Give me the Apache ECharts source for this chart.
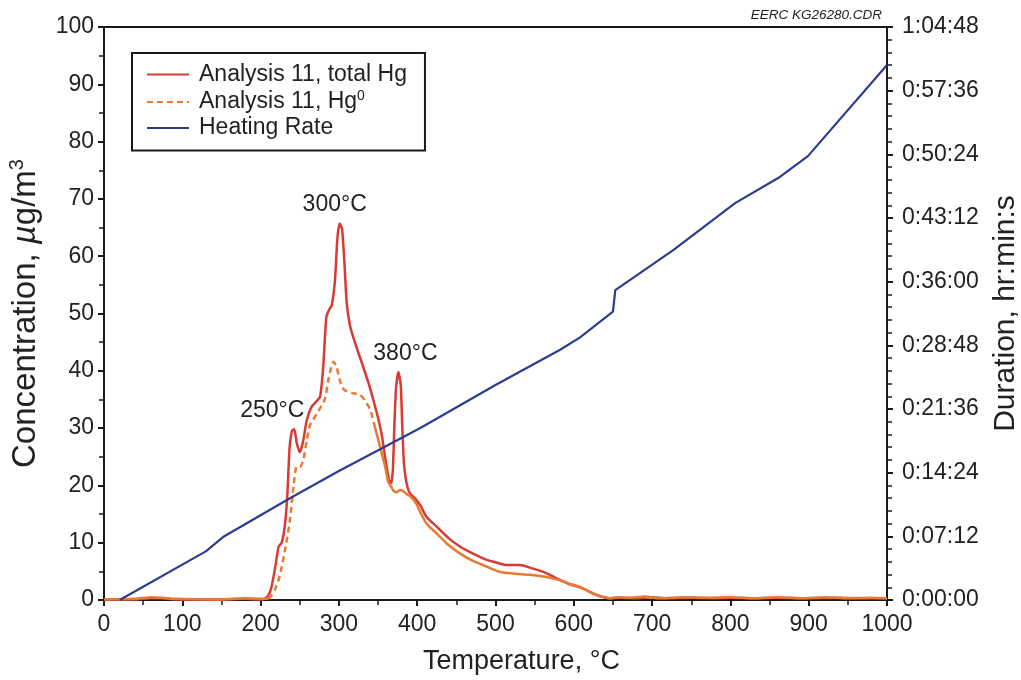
<!DOCTYPE html>
<html>
<head>
<meta charset="utf-8">
<script src="https://cdn.jsdelivr.net/npm/echarts@6/dist/echarts.min.js"></script>
<style>html,body{margin:0;padding:0;background:#fff}#c{width:1021px;height:680px}</style>
</head>
<body>
<div id="c"></div>
<script>
// ---- data ----
const totalTemp = [0,40,60,75,90,150,180,200,205,210,214,219,223,227,231,234,237,240,243,246,250,254,259,265,271,276,280,284,288,291,295,298,301,304,307,310,314,318,324,331,338,344,350,355,360,364,367,369,371,373,376,379,381,383,385,388,391,398,404,412,425,440,455,470,489,500,514,531,545,561,572,582,594,604,615,625,635,646,660,680,700,720,750,780,800,830,860,900,940,970,1000];
const totalConc = [0.1,0.1,0.3,0.3,0.1,0.1,0.2,0.1,0.2,0.8,2.3,6,9.3,10,13,18,26.5,29.5,29.8,27.5,25.8,27.5,31.4,33.7,34.6,35.5,40.7,49.4,50.8,51.5,55.8,63,65.7,64.8,59,51.8,48,46,43.5,40.7,37.8,34.9,31.8,28.6,24,21,20.4,23,31,37,39.8,37.5,30,24,21.5,19.5,18.6,17.6,16.5,14.5,12.8,10.8,9.3,8.2,7,6.6,6.1,6.1,5.6,4.9,4.2,3.5,2.8,2.4,1.8,1.1,0.6,0.3,0.4,0.3,0.5,0.3,0.4,0.3,0.4,0.3,0.4,0.3,0.4,0.3,0.3];

const hg0Temp = [0,40,60,75,90,150,180,200,210,214,218,223,227,232,237.5,242,246,250,254.6,259,263,269.5,276,282,286.5,290,293,297,301,305,310,318,327,333,340,346,352.5,359,363,367,370,374,378,382,386.5,392,399,404,412,425,440,455,470,489,506,525,544,565,578,587,598,608,618,629,638,646,655,670,690,710,740,770,800,830,860,890,920,950,980,1000];
const hg0Conc = [0.1,0.2,0.5,0.4,0.2,0.1,0.3,0.2,0.2,0.8,1.7,3.5,5.8,9.3,14,19.8,23.3,23.2,24.4,27.9,30.5,32,33.5,35,38.4,40.5,41.6,40.7,38.4,37,36.4,36.1,35.8,34.9,33.2,30.2,26.8,23.3,20.6,19.7,19,18.8,19.2,19,18.5,18,16.8,15.3,13.3,11.6,9.6,8.1,6.9,5.8,4.9,4.6,4.4,4.0,3.6,3.2,2.7,2.3,1.6,0.9,0.5,0.3,0.5,0.4,0.6,0.3,0.5,0.4,0.5,0.3,0.5,0.3,0.5,0.3,0.4,0.3];
const hg0DashFrom = 210, hg0DashTo = 346;

const heatTemp = [20,130,152,238,300,404,500,582,608,650,653,727,806,861,899,1000];
const heatSec  = [0,330,427,692,875,1167,1459,1696,1782,1956,2103,2374,2693,2863,3012,3630];

const peakTemp = [243,301,376];
const peakConc = [29.8,65.7,39.8];
const peakText = ['250°C','300°C','380°C'];

const xTicks = {min:0, max:1000, step:100};
const yTicks = {min:0, max:100, step:10};
const durTicks = {min:0, max:3888, step:432};

const NAME_TOTAL = 'Analysis 11, total Hg';
const NAME_HG0 = 'Analysis 11, Hg0';
const NAME_HEAT = 'Heating Rate';

// ---- build ----
const zip = (a, b) => a.map((v, i) => [v, b[i]]);
const totalData = zip(totalTemp, totalConc);
const hg0All = zip(hg0Temp, hg0Conc);
const hg0Dash = hg0All.filter(p => p[0] >= hg0DashFrom && p[0] <= hg0DashTo);
const hg0Solid = hg0All.map(p => (p[0] > hg0DashFrom && p[0] < hg0DashTo) ? [p[0], '-'] : p);
const heatData = zip(heatTemp, heatSec);

function hms(s) {
  s = Math.round(s);
  const h = Math.floor(s / 3600), m = Math.floor((s % 3600) / 60), ss = s % 60;
  return h + ':' + String(m).padStart(2, '0') + ':' + String(ss).padStart(2, '0');
}

const FONT = 'Liberation Sans, Arial, Helvetica, sans-serif';
const RED = '#d93a34', ORANGE = '#ea7a30', BLUE = '#2c3d8f', INK = '#1a1a1a', TXT = '#222';
const labelOffsets = [[-22,-19],[-5,-19],[7,-18]];

const chart = echarts.init(document.getElementById('c'), null, {renderer: 'canvas'});
chart.setOption({
  animation: false,
  textStyle: {fontFamily: FONT},
  grid: {left: 104, right: 134, top: 27, bottom: 80, show: true, borderColor: INK, borderWidth: 2,
         backgroundColor: 'transparent', containLabel: false, outerBoundsMode: 'none'},
  legend: {
    data: [NAME_TOTAL, NAME_HG0, NAME_HEAT],
    orient: 'vertical', left: 132, top: 53,
    padding: [10, 18, 11, 14],
    borderColor: INK, borderWidth: 2,
    itemWidth: 42, itemHeight: 14, itemGap: 3,
    selectedMode: false,
    itemStyle: {opacity: 0},
    formatter: n => n === NAME_HG0 ? 'Analysis 11, Hg{sup|0}' : n,
    textStyle: {fontSize: 23, color: TXT, fontFamily: FONT, padding: [0, 0, 0, 5],
      rich: {sup: {fontSize: 14, verticalAlign: 'top', padding: [0, 0, 12, 0], color: TXT, fontFamily: FONT}}}
  },
  xAxis: {
    type: 'value', min: xTicks.min, max: xTicks.max, interval: xTicks.step,
    name: 'Temperature, °C', nameLocation: 'middle', nameGap: 48,
    nameTextStyle: {fontSize: 27, color: TXT, padding: [0, 0, 0, 52]},
    axisLine: {lineStyle: {color: INK, width: 2}},
    axisTick: {length: 6, lineStyle: {color: INK, width: 2}},
    minorTick: {show: true, splitNumber: 2, length: 5, lineStyle: {color: INK, width: 1.5}},
    axisLabel: {fontSize: 23, color: TXT, margin: 13, formatter: v => String(v)},
    splitLine: {show: false}
  },
  yAxis: [{
    type: 'value', min: yTicks.min, max: yTicks.max, interval: yTicks.step,
    name: 'Concentration, {it|µ}g/m{sup|3}', nameLocation: 'middle', nameGap: 60, nameRotate: 90,
    nameTextStyle: {fontSize: 33, color: TXT,
      rich: {it: {fontSize: 33, fontStyle: 'italic', color: TXT, fontFamily: FONT},
             sup: {fontSize: 20, verticalAlign: 'top', padding: [0, 0, 17, 0], color: TXT, fontFamily: FONT}}},
    axisLine: {show: true, lineStyle: {color: INK, width: 2}},
    axisTick: {length: 6, lineStyle: {color: INK, width: 2}},
    minorTick: {show: true, splitNumber: 2, length: 5, lineStyle: {color: INK, width: 1.5}},
    axisLabel: {fontSize: 23, color: TXT, margin: 10},
    splitLine: {show: false}
  }, {
    type: 'value', position: 'right', min: durTicks.min, max: durTicks.max, interval: durTicks.step,
    name: 'Duration, hr:min:s', nameLocation: 'middle', nameGap: 104, nameRotate: 90,
    nameTextStyle: {fontSize: 30, color: TXT},
    axisLine: {show: true, lineStyle: {color: INK, width: 2}},
    axisTick: {length: 6, lineStyle: {color: INK, width: 2}},
    minorTick: {show: true, splitNumber: 5, length: 5, lineStyle: {color: INK, width: 1.5}},
    axisLabel: {fontSize: 23, color: TXT, margin: 15, formatter: v => hms(v)},
    splitLine: {show: false}
  }],
  graphic: [{
    type: 'text', right: 139, top: 8,
    style: {text: 'EERC KG26280.CDR', font: 'italic 13.5px ' + FONT, fill: TXT}
  }],
  series: [{
    name: NAME_TOTAL, type: 'line', data: totalData, symbol: 'none', smooth: 0.2,
    lineStyle: {color: RED, width: 2.5}, itemStyle: {color: RED}, z: 3,
    markPoint: {
      symbol: 'circle', symbolSize: 1, itemStyle: {color: 'rgba(0,0,0,0)'},
      label: {show: true, position: 'inside', fontSize: 23, color: TXT, fontFamily: FONT},
      data: peakTemp.map((t, i) => ({coord: [t, peakConc[i]], value: peakText[i],
        label: {formatter: peakText[i], offset: labelOffsets[i]}}))
    }
  }, {
    name: NAME_HG0, type: 'line', data: hg0Dash, symbol: 'none', smooth: 0.2,
    lineStyle: {color: ORANGE, width: 2.5, type: [6, 4]}, itemStyle: {color: ORANGE}, z: 4
  }, {
    name: NAME_HG0, type: 'line', data: hg0Solid, symbol: 'none', smooth: 0.2, connectNulls: false,
    lineStyle: {color: ORANGE, width: 2.5}, itemStyle: {color: ORANGE}, z: 4
  }, {
    name: NAME_HEAT, type: 'line', yAxisIndex: 1, data: heatData, symbol: 'none',
    lineStyle: {color: BLUE, width: 2.2}, itemStyle: {color: BLUE}, z: 5
  }]
});
</script>
</body>
</html>
